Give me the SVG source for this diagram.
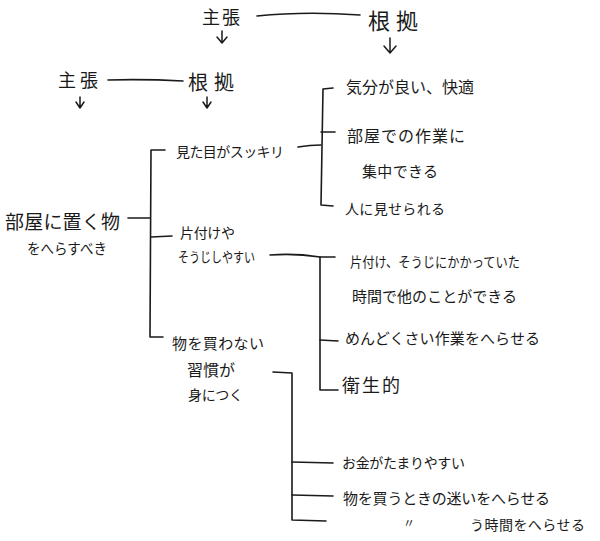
<svg xmlns="http://www.w3.org/2000/svg" width="600" height="541" viewBox="0 0 600 541">
<style>
text{font-family:"Noto Sans CJK JP","Noto Sans",sans-serif;fill:#1a1a1a;dominant-baseline:central}
.s{lengthAdjust:spacingAndGlyphs}
.c{fill:none;stroke:#1a1a1a;stroke-width:1.6;stroke-linecap:round;stroke-linejoin:round}
.a{fill:none;stroke:#1a1a1a;stroke-width:1.5;stroke-linecap:round;stroke-linejoin:round}
</style>
<rect width="600" height="541" fill="#fff"/>
<g id="legend">
<text x="202" y="16" textLength="38" font-size="18">主張</text>
<text x="368" y="19" textLength="50" font-size="22">根拠</text>
<text x="58" y="79" textLength="40" font-size="18">主張</text>
<text x="188" y="81" textLength="46" font-size="20">根拠</text>
</g>
<g id="connectors">
<path class="c" d="M257,16 Q305,11 360,15"/>
<path class="c" d="M108,80 Q145,79 183,81"/>
<path class="a" d="M222,31 L222,43 M217,37 L222,43 L227,37"/>
<path class="a" d="M390,38 L390,53 M384,46 L390,53 L396,46"/>
<path class="a" d="M80,97 L80,108 M76,102 L80,108 L84,102"/>
<path class="a" d="M207,97 L207,108 M203,102 L207,108 L211,102"/>
<path class="c" d="M128,218 L150,218"/>
<path class="c" d="M165,150 L151,150 L150,337 L163,337"/>
<path class="c" d="M151,237 L172,236"/>
<path class="c" d="M298,147 Q310,145 321,145"/>
<path class="c" d="M333,88 L323,89 L321,205 L333,206"/>
<path class="c" d="M321,132 L335,132"/>
<path class="c" d="M270,255 Q295,253 320,257 L335,257"/>
<path class="c" d="M320,257 L320,390 L338,390"/>
<path class="c" d="M320,340 L338,341"/>
<path class="c" d="M273,372 L292,373 L292,520 L326,521"/>
<path class="c" d="M292,462 L333,463"/>
<path class="c" d="M292,495 L333,496"/>
</g>
<g id="root">
<text x="5" y="220" textLength="115" font-size="19">部屋に置く物</text>
<text x="27" y="247" textLength="80" lengthAdjust="spacingAndGlyphs" font-size="15">をへらすべき</text>
</g>
<g id="n1"><text x="176" y="151" textLength="108" font-size="14">見た目がスッキリ</text></g>
<g id="n2">
<text x="180" y="232" textLength="55" font-size="14">片付けや</text>
<text x="178" y="256" textLength="77" lengthAdjust="spacingAndGlyphs" font-size="14">そうじしやすい</text>
</g>
<g id="n3">
<text x="172" y="342" textLength="92" font-size="15">物を買わない</text>
<text x="187" y="369" textLength="48" font-size="16">習慣が</text>
<text x="188" y="394" textLength="55" font-size="14">身につく</text>
</g>
<g id="n1a"><text x="346" y="86" textLength="128" font-size="16">気分が良い、快適</text></g>
<g id="n1b">
<text x="347" y="135" textLength="118" font-size="16">部屋での作業に</text>
<text x="362" y="170" textLength="76" font-size="15">集中できる</text>
</g>
<g id="n1c"><text x="345" y="208" textLength="100" font-size="14">人に見せられる</text></g>
<g id="n2a">
<text x="350" y="261" textLength="170" lengthAdjust="spacingAndGlyphs" font-size="14">片付け、そうじにかかっていた</text>
<text x="352" y="295" textLength="165" font-size="15">時間で他のことができる</text>
</g>
<g id="n2b"><text x="345" y="337" textLength="195" font-size="15">めんどくさい作業をへらせる</text></g>
<g id="n2c"><text x="342" y="384" textLength="58" font-size="18">衛生的</text></g>
<g id="n3a"><text x="342" y="462" textLength="123" font-size="14">お金がたまりやすい</text></g>
<g id="n3b"><text x="343" y="497" textLength="207" font-size="15">物を買うときの迷いをへらせる</text></g>
<g id="n3c">
<text x="403" y="522" font-size="12">〃</text>
<text x="470" y="524" textLength="115" font-size="14">う時間をへらせる</text>
</g>
</svg>
